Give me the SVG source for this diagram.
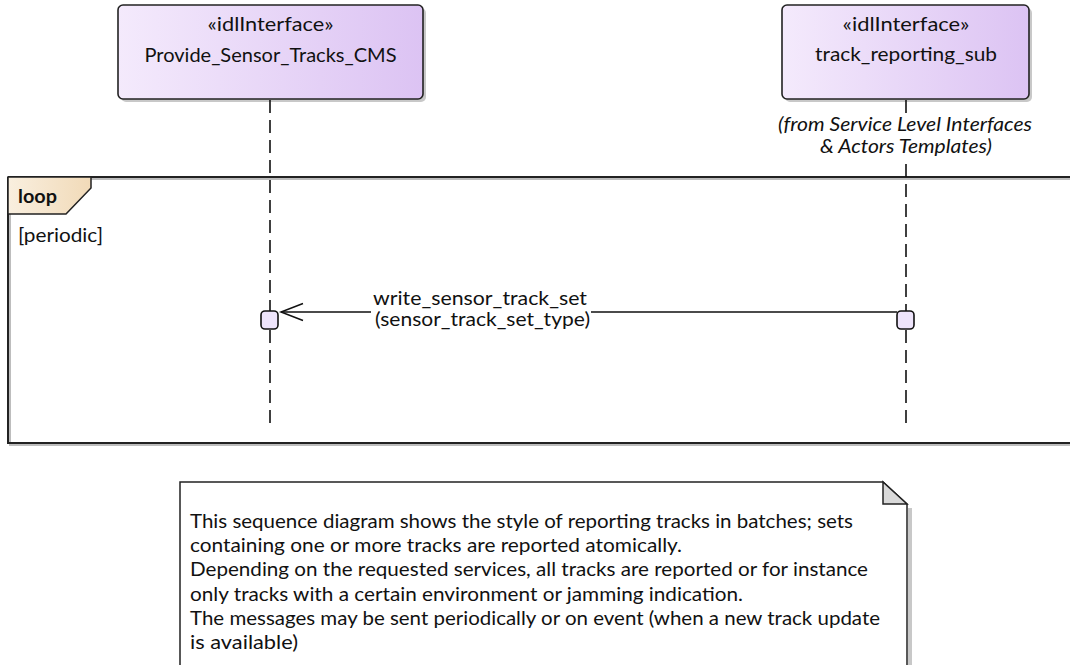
<svg xmlns="http://www.w3.org/2000/svg" width="1070" height="665" viewBox="0 0 1070 665">
<defs>
<linearGradient id="ifc" x1="0" y1="0" x2="1" y2="0">
<stop offset="0" stop-color="#F4EAFC"/>
<stop offset="1" stop-color="#DCC3F3"/>
</linearGradient>
<linearGradient id="tab" x1="0" y1="0" x2="1" y2="0">
<stop offset="0" stop-color="#F9EFDF"/>
<stop offset="1" stop-color="#F1DAB8"/>
</linearGradient>
<style>
text{font-family:"Lato","Liberation Sans",Arial,sans-serif;fill:#111;font-size:19px;}
.ital{font-style:italic;}
.life{stroke:#111;stroke-width:1.6;stroke-dasharray:13,7;fill:none;}
.box{stroke:#222;stroke-width:1.6;}
.shadow{fill:#C8C8C8;}
.act{fill:#EEE4FB;stroke:#111;stroke-width:1.6;}
</style>
</defs>
<rect width="1070" height="665" fill="#FFFFFF"/>

<g id="loop-frame">
<path d="M10 179 H1070 M10 179 V445 H1070" fill="none" stroke="#BDBDBD" stroke-width="2"/>
<path d="M8 177 H1070 M8 177 V443 H1070" fill="none" stroke="#222" stroke-width="2"/>
<path d="M8 177 H91 V188 L66 214 H8 Z" fill="url(#tab)" stroke="#222" stroke-width="1.5"/>
<text x="18" y="203" style="font-weight:bold" textLength="39" lengthAdjust="spacingAndGlyphs">loop</text>
<text x="18" y="242" textLength="85" lengthAdjust="spacingAndGlyphs">[periodic]</text>
</g>

<g id="node-provide">
<rect x="121" y="8" width="305" height="94" rx="5" class="shadow"/>
<rect x="118" y="5" width="305" height="94" rx="5" fill="url(#ifc)" class="box"/>
<text x="270.5" y="31" text-anchor="middle" textLength="126" lengthAdjust="spacingAndGlyphs">«idlInterface»</text>
<text x="270.5" y="62" text-anchor="middle" textLength="252" lengthAdjust="spacingAndGlyphs">Provide_Sensor_Tracks_CMS</text>
</g>

<g id="node-track">
<rect x="785" y="8" width="247" height="94" rx="5" class="shadow"/>
<rect x="782" y="5" width="247" height="94" rx="5" fill="url(#ifc)" class="box"/>
<text x="906" y="31" text-anchor="middle" textLength="127" lengthAdjust="spacingAndGlyphs">«idlInterface»</text>
<text x="906" y="61" text-anchor="middle" textLength="182" lengthAdjust="spacingAndGlyphs">track_reporting_sub</text>
<text x="905" y="131" text-anchor="middle" class="ital" textLength="254" lengthAdjust="spacingAndGlyphs">(from Service Level Interfaces</text>
<text x="906" y="153" text-anchor="middle" class="ital" textLength="172" lengthAdjust="spacingAndGlyphs">&amp; Actors Templates)</text>
</g>

<g id="connectors">
<path class="life" d="M270 100 V311"/>
<path class="life" d="M270 330 V425"/>
<path class="life" d="M906 100 V113"/>
<path class="life" d="M906 164 V311"/>
<path class="life" d="M906 330 V425"/>
<path d="M281 312 H371 M591 312 H897" stroke="#111" stroke-width="1.5" fill="none"/>
<path d="M303 303.5 L281 312 L303 320.5" stroke="#111" stroke-width="1.5" fill="none"/>
<text x="373" y="305" textLength="214" lengthAdjust="spacingAndGlyphs">write_sensor_track_set</text>
<text x="375" y="326" textLength="215" lengthAdjust="spacingAndGlyphs">(sensor_track_set_type)</text>
<rect x="261" y="311" width="17" height="18" rx="4" class="act"/>
<rect x="897" y="311" width="17" height="18" rx="4" class="act"/>
</g>

<g id="note">
<path d="M910 508 V665" stroke="#C8C8C8" stroke-width="4" fill="none"/>
<path d="M180 482 H883 L907 504 V666 H180 Z" fill="#FFFFFF" stroke="#222" stroke-width="1.5"/>
<path d="M883 482 V504 H907 Z" fill="#D9D9D9" stroke="#222" stroke-width="1.5"/>
<text x="190" y="528" textLength="663" lengthAdjust="spacingAndGlyphs">This sequence diagram shows the style of reporting tracks in batches; sets</text>
<text x="190" y="552" textLength="492" lengthAdjust="spacingAndGlyphs">containing one or more tracks are reported atomically.</text>
<text x="190" y="576" textLength="678" lengthAdjust="spacingAndGlyphs">Depending on the requested services, all tracks are reported or for instance</text>
<text x="190" y="601" textLength="553" lengthAdjust="spacingAndGlyphs">only tracks with a certain environment or jamming indication.</text>
<text x="190" y="625" textLength="690" lengthAdjust="spacingAndGlyphs">The messages may be sent periodically or on event (when a new track update</text>
<text x="190" y="649" textLength="108" lengthAdjust="spacingAndGlyphs">is available)</text>
</g>
</svg>
